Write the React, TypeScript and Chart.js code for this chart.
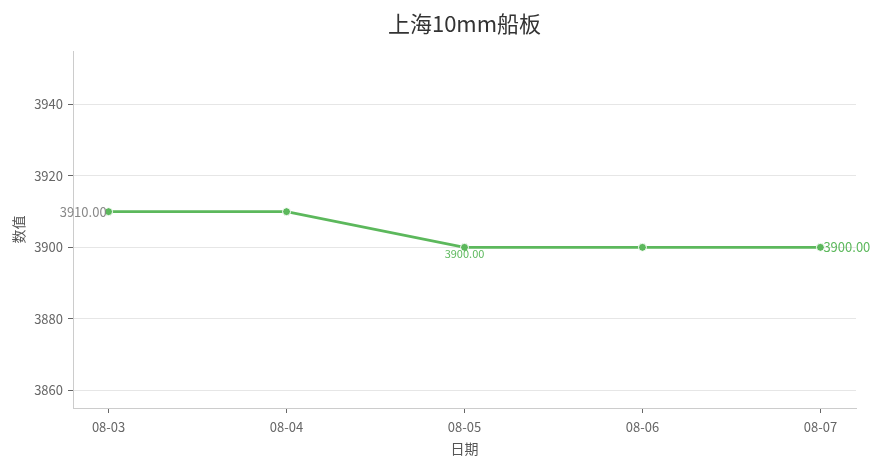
import { Chart, registerables, type Plugin } from 'chart.js';
import { type FC, useEffect, useRef } from 'react';

Chart.register(...registerables);

const dates = ['08-03', '08-04', '08-05', '08-06', '08-07'];
const prices = [3910, 3910, 3900, 3900, 3900];
const yTicks = [3860, 3880, 3900, 3920, 3940];
// which points get a value label, and where
const labelled = [
  { index: 0, side: 'left' },
  { index: 2, side: 'below' },
  { index: 4, side: 'right' },
];

const green = '#5cb85c';

const valueLabels: Plugin<'line'> = {
  id: 'valueLabels',
  afterDatasetsDraw(chart) {
    const { ctx } = chart;
    const meta = chart.getDatasetMeta(0);
    ctx.save();
    labelled.forEach(({ index, side }) => {
      const pt = meta.data[index];
      if (!pt) return;
      const text = prices[index].toFixed(2);
      ctx.textBaseline = 'middle';
      if (side === 'left') {
        ctx.font = '13px "Noto Sans CJK SC"';
        ctx.fillStyle = '#888';
        ctx.textAlign = 'right';
        ctx.fillText(text, pt.x - 2, pt.y);
      } else if (side === 'below') {
        ctx.font = '11px "Noto Sans CJK SC"';
        ctx.fillStyle = green;
        ctx.textAlign = 'center';
        ctx.fillText(text, pt.x, pt.y + 6);
      } else {
        ctx.font = '13px "Noto Sans CJK SC"';
        ctx.fillStyle = green;
        ctx.textAlign = 'left';
        ctx.fillText(text, pt.x + 3, pt.y);
      }
    });
    ctx.restore();
  },
};

const App: FC = () => {
  const canvasRef = useRef<HTMLCanvasElement>(null);
  const chartRef = useRef<Chart<'line'> | null>(null);

  useEffect(() => {
    if (!canvasRef.current) return;
    Chart.defaults.font.family = '"Noto Sans CJK SC", "Noto Sans", sans-serif';

    chartRef.current = new Chart(canvasRef.current, {
      type: 'line',
      data: {
        datasets: [
          {
            label: '上海10mm船板',
            data: prices.map((v, i) => ({ x: i, y: v })),
            borderColor: green,
            backgroundColor: green,
            borderWidth: 2.8,
            pointRadius: 4,
            pointBorderColor: '#fff',
            pointBorderWidth: 1,
            tension: 0,
          },
        ],
      },
      options: {
        animation: false,
        responsive: true,
        maintainAspectRatio: false,
        layout: { padding: { left: 0, right: 28, top: 0, bottom: 0 } },
        plugins: {
          legend: { display: false },
          tooltip: { enabled: false },
          title: {
            display: true,
            text: '上海10mm船板',
            color: '#333',
            fullSize: false,
            font: { size: 22, weight: 'normal' },
            padding: { top: 10, bottom: 14.6 },
          },
        },
        scales: {
          x: {
            type: 'linear',
            min: -0.2,
            max: 4.2,
            afterBuildTicks: (scale) => {
              scale.ticks = dates.map((_, i) => ({ value: i }));
            },
            afterFit: (scale) => {
              scale.height = 60;
            },
            ticks: {
              color: '#666',
              font: { size: 13 },
              padding: 6,
              maxRotation: 0,
              callback: (value) => dates[Number(value)] ?? '',
            },
            grid: {
              drawOnChartArea: false,
              drawTicks: true,
              tickLength: 5,
              tickColor: '#666',
              tickWidth: 1,
            },
            border: { color: '#ccc' },
            title: {
              display: true,
              text: '日期',
              color: '#555',
              font: { size: 14 },
              padding: { top: 11, bottom: 11 },
            },
          },
          y: {
            min: 3855,
            max: 3955,
            afterBuildTicks: (scale) => {
              scale.ticks = yTicks.map((v) => ({ value: v }));
            },
            afterFit: (scale) => {
              scale.width = 73;
            },
            ticks: {
              color: '#666',
              font: { size: 13 },
              padding: 5,
              callback: (value) => String(value),
            },
            grid: {
              color: '#e6e6e6',
              tickLength: 5,
              tickColor: '#666',
              tickWidth: 1,
            },
            border: { color: '#ccc' },
            title: {
              display: true,
              text: '数值',
              color: '#555',
              font: { size: 14 },
              padding: { top: 10, bottom: 10 },
            },
          },
        },
      },
      plugins: [valueLabels],
    });

    return () => {
      chartRef.current?.destroy();
      chartRef.current = null;
    };
  }, []);

  return (
    <div style={{ position: 'absolute', left: 0, top: 0, width: 884, height: 468 }}>
      <canvas ref={canvasRef} />
    </div>
  );
};

export default App;
